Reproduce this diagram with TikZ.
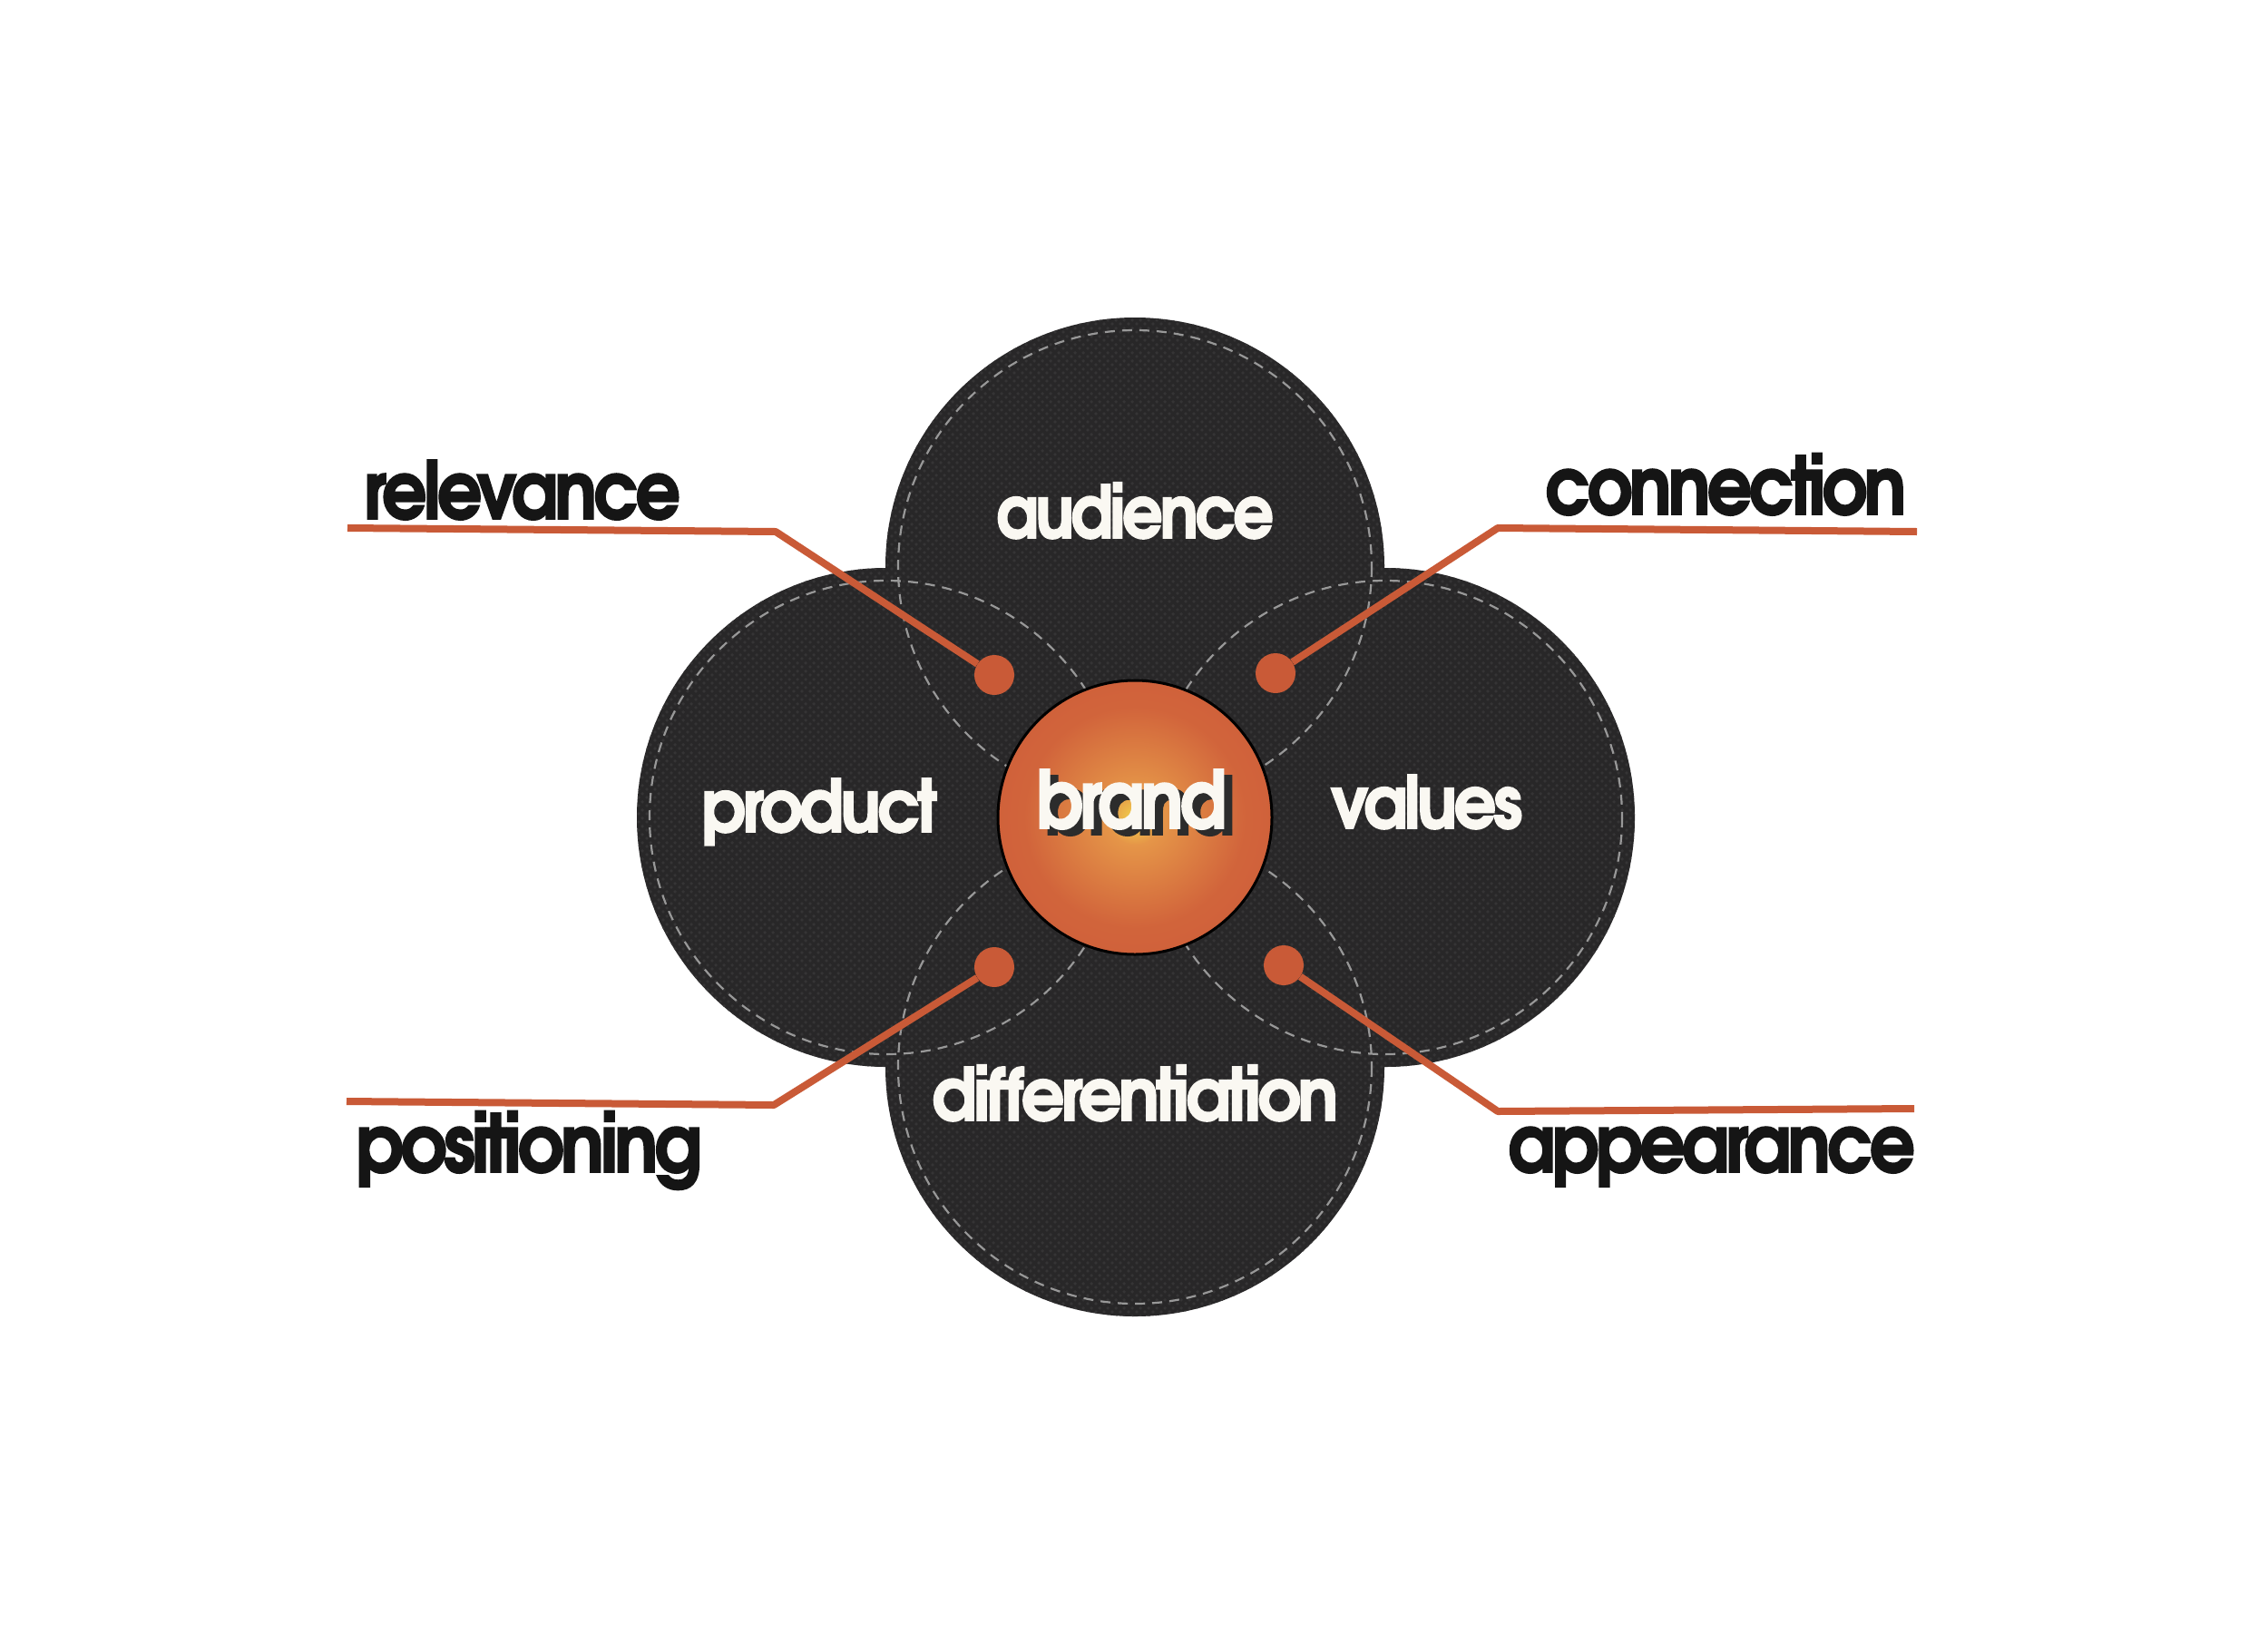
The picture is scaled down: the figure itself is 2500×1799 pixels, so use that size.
\documentclass[tikz,border=0pt]{standalone}
\usepackage{fontspec}
\usepackage{graphicx}
\setmainfont{Poppins}
\newfontfamily\lblfont{texgyreadventor-bold.otf}[LetterSpace=-5, FakeBold=2]
\usetikzlibrary{patterns}
\definecolor{disk}{HTML}{282728}
\definecolor{diskdot}{HTML}{353435}
\definecolor{stitch}{HTML}{989898}
\definecolor{accent}{HTML}{C95A37}
\definecolor{ink}{HTML}{151515}
\definecolor{paper}{HTML}{FAF8F2}
\definecolor{glowY}{HTML}{F2D34C}
\definecolor{glowO}{HTML}{E59548}
\definecolor{brandO}{HTML}{CE5C39}
\newcommand{\lblw}[2]{\resizebox{#1pt}{\height}{#2}}
\pgfdeclarepatternformonly{carbondots}{\pgfpointorigin}{\pgfpoint{9pt}{9pt}}{\pgfpoint{9pt}{9pt}}{%
  \pgfpathcircle{\pgfpoint{2.25pt}{2.25pt}}{2.1pt}%
  \pgfpathcircle{\pgfpoint{6.75pt}{6.75pt}}{2.1pt}%
  \pgfusepath{fill}}
\pgfdeclareradialshading{brandglow}{\pgfpointorigin}{color(0bp)=(glowY); color(5bp)=(glowO); color(20bp)=(brandO!85!glowO); color(32bp)=(brandO); color(50bp)=(brandO)}
\begin{document}
\begin{tikzpicture}[x=1pt,y=-1pt,
  lbl/.style={font={\lblfont\fontsize{88}{92}\selectfont}, text=ink, anchor=base west, inner sep=0pt},
  inlbl/.style={lbl, font={\lblfont\fontsize{80}{84}\selectfont}, text=paper},
  leader/.style={draw=accent, line width=8pt, line join=round},
  dotnode/.style={circle, fill=accent, minimum size=44pt, inner sep=0pt},
  stitchline/.style={draw=stitch, line width=2.2pt, dash pattern=on 11pt off 8pt},
]
\useasboundingbox[fill=white] (0,0) rectangle (2500,1799);
\coordinate (C) at (1251,901);
\coordinate (cT) at (1251,625);
\coordinate (cB) at (1251,1176);
\coordinate (cL) at (977,901);
\coordinate (cR) at (1527,901);
% petals
\fill[disk] (cT) circle[radius=275] (cB) circle[radius=275] (cL) circle[radius=275] (cR) circle[radius=275];
\fill[pattern=carbondots, pattern color=diskdot] (cT) circle[radius=275] (cB) circle[radius=275] (cL) circle[radius=275] (cR) circle[radius=275];
% stitching
\draw[stitchline] (cT) circle[radius=261];
\draw[stitchline] (cB) circle[radius=261];
\draw[stitchline] (cL) circle[radius=261];
\draw[stitchline] (cR) circle[radius=261];
% dots
\node[dotnode] (d1) at (1096,744) {};
\node[dotnode] (d2) at (1406,742) {};
\node[dotnode] (d3) at (1096,1066) {};
\node[dotnode] (d4) at (1415,1064) {};
% leader ends
\coordinate (e1) at (383,582);  \coordinate (b1) at (855,586);
\coordinate (b2) at (1651,582); \coordinate (e2) at (2113,586);
\coordinate (e3) at (382,1214); \coordinate (b3) at (853,1218);
\coordinate (b4) at (1651,1225);\coordinate (e4) at (2110,1222);
\draw[leader] (e1) -- (b1) -- (d1);
\draw[leader] (e2) -- (b2) -- (d2);
\draw[leader] (e3) -- (b3) -- (d3);
\draw[leader] (e4) -- (b4) -- (d4);
% brand
\node[circle, minimum size=302pt, inner sep=0pt, draw=black, line width=3pt, shading=brandglow] (brand) at (C) {};
\node[lbl, text=ink!90] (brandshadow) at (1151,920) {\lblw{210}{brand}};
\node[lbl, text=paper] (brandtext) at (1142,913) {\lblw{210}{brand}};
% inner labels
\node[inlbl] (audience) at (1098,593) {\lblw{306}{audience}};
\node[inlbl] (product) at (773,917) {\lblw{260}{product}};
\node[inlbl] (values) at (1467,913) {\lblw{211}{values}};
\node[inlbl] (diff) at (1027,1235) {\lblw{448}{differentiation}};
% outer labels
\node[lbl] (relevance) at (401,572) {\lblw{349}{relevance}};
\node[lbl] (connection) at (1703,567) {\lblw{398}{connection}};
\node[lbl] (positioning) at (392,1292) {\lblw{382}{positioning}};
\node[lbl] (appearance) at (1662,1292) {\lblw{449}{appearance}};
\end{tikzpicture}
\end{document}
